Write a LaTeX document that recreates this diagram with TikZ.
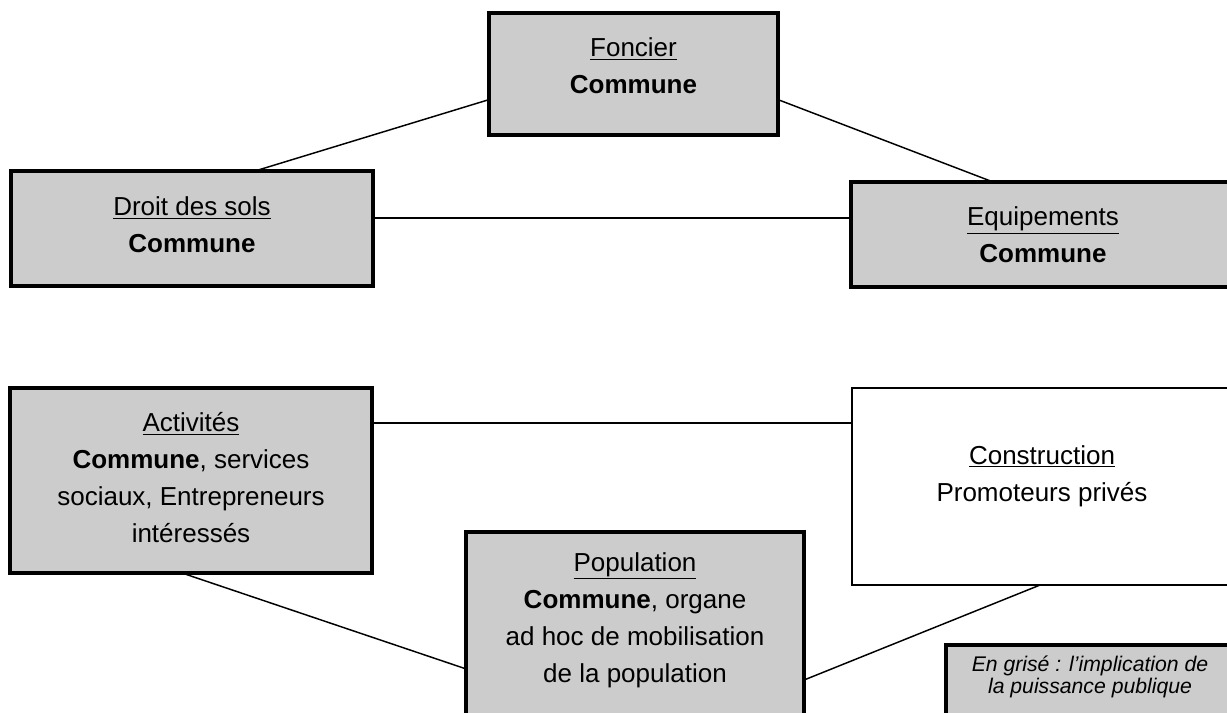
\documentclass[tikz,border=0pt]{standalone}
\usepackage{fontspec}
\setmainfont{Liberation Sans}
\usetikzlibrary{calc}
\definecolor{boxgray}{HTML}{CCCCCC}
\begin{document}
\begin{tikzpicture}[x=0.75pt,y=-0.75pt,
  pubbox/.style={draw=black, fill=boxgray, line width=2.3pt, inner sep=0pt, outer sep=0pt},
  privbox/.style={draw=black, fill=white, line width=1.1pt, inner sep=0pt, outer sep=0pt},
  lbl/.style={align=center, inner sep=0pt, font=\fontsize{19.5}{27.75}\selectfont},
  note/.style={align=center, inner sep=0pt, font=\itshape\fontsize{15.9}{16.5}\selectfont},
  link/.style={draw=black, line width=1.1pt}]
\useasboundingbox (0,0) rectangle (1227,713);
\clip (0,0) rectangle (1227,713);

% boxes
\node[pubbox, minimum width=216.75pt, minimum height=91.5pt] (foncier) at (633.5,74) {};
\node[pubbox, minimum width=271.5pt, minimum height=86.25pt] (droit) at (192,228.5) {};
\node[pubbox, minimum width=288pt, minimum height=78.75pt] (equip) at (1043,234.5) {};
\node[pubbox, minimum width=271.5pt, minimum height=138.75pt] (activ) at (191,480.5) {};
\node[privbox, minimum width=285pt, minimum height=147.75pt] (constr) at (1042,486.5) {};
\node[pubbox, minimum width=253.5pt, minimum height=163.5pt] (popul) at (635,641) {};
\node[pubbox, minimum width=216pt, minimum height=60pt] (legend) at (1090,685) {};

% texts
\node[lbl] (tfoncier) at (633.5,66) {\underline{Foncier}\\\textbf{Commune}};
\node[lbl] (tdroit) at (192,225) {\underline{Droit des sols}\\\textbf{Commune}};
\node[lbl] (tequip) at (1043,235) {\underline{Equipements}\\\textbf{Commune}};
\node[lbl] (tactiv) at (191,478) {\underline{Activités}\\\textbf{Commune}, services\\sociaux, Entrepreneurs\\intéressés};
\node[lbl] (tconstr) at (1042,476) {\underline{Construction}\\Promoteurs privés};
\node[lbl] (tpopul) at (635,620) {\underline{Population}\\\textbf{Commune}, organe\\ad hoc de mobilisation\\de la population};
\node[note] (tlegend) at (1090,677) {En grisé : l’implication de\\la puissance publique};

% connectors
\draw[link] ($(foncier.north west)!0.71!(foncier.south west)$) -- ($(droit.north west)!0.674!(droit.north east)$);
\draw[link] ($(foncier.north east)!0.71!(foncier.south east)$) -- ($(equip.north west)!0.37!(equip.north east)$);
\coordinate (dq) at ($(droit.north east)!0.41!(droit.south east)$);
\draw[link] (dq) -- (dq -| equip.west);
\coordinate (ac) at ($(activ.north east)!0.19!(activ.south east)$);
\draw[link] (ac) -- (ac -| constr.west);
\draw[link] ($(activ.south west)!0.475!(activ.south east)$) -- ($(popul.north west)!0.628!(popul.south west)$);
\draw[link] ($(popul.north east)!0.679!(popul.south east)$) -- ($(constr.south west)!0.495!(constr.south east)$);
\end{tikzpicture}
\end{document}
